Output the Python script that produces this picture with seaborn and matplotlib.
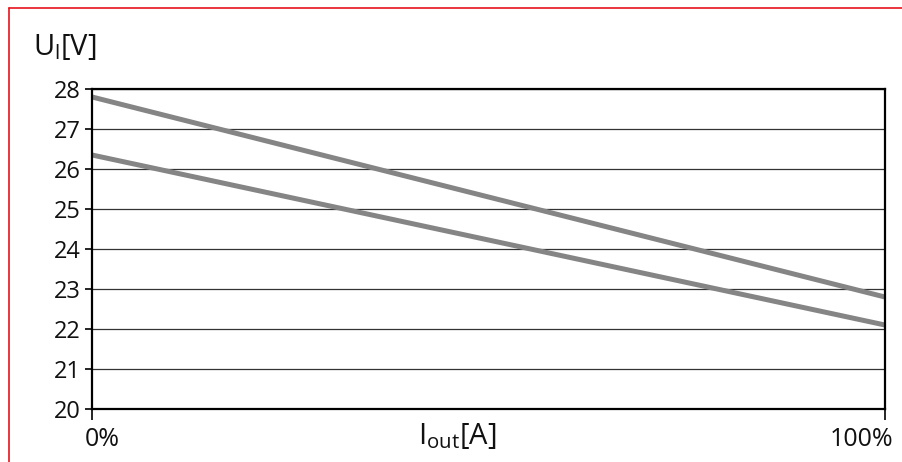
import matplotlib
matplotlib.use('Agg')
import matplotlib.pyplot as plt
from matplotlib.lines import Line2D
import matplotlib.transforms as mtransforms
import seaborn as sns
import pandas as pd

sns.set_style('white')
plt.rcParams['font.family'] = ['Open Sans', 'DejaVu Sans']
plt.rcParams['mathtext.fontset'] = 'custom'
plt.rcParams['mathtext.rm'] = 'Open Sans'

# load in percent, voltage
load_pct = [0, 100]
upper_v = [27.8, 22.8]
lower_v = [26.35, 22.1]
y_ticks = [20, 21, 22, 23, 24, 25, 26, 27, 28]
x_ticks = [0, 100]
x_labels = ['0%', '100%']

df = pd.DataFrame({
    'load': load_pct * 2,
    'volt': upper_v + lower_v,
    'curve': ['upper'] * 2 + ['lower'] * 2,
})

fig = plt.figure(figsize=(9.03, 4.62), dpi=100)
ax = fig.add_axes([0.1019, 0.1147, 0.8781, 0.6927])

sns.lineplot(data=df, x='load', y='volt', hue='curve', ax=ax,
             palette={'upper': '#858585', 'lower': '#858585'},
             linewidth=3.6, legend=False)

ax.set_xlim(0, 100)
ax.set_ylim(20, 28)
ax.set_yticks(y_ticks)
ax.set_xticks(x_ticks)
ax.yaxis.grid(True, color='#333333', linewidth=0.9)
ax.xaxis.grid(False)
ax.set_axisbelow(True)
for s in ax.spines.values():
    s.set_color('black')
    s.set_linewidth(1.6)
ax.tick_params(axis='y', left=True, length=5, width=1.2, color='black',
               labelsize=17, pad=3, labelcolor='#111111')
ax.tick_params(axis='x', bottom=True, length=8, width=1.2, color='black',
               pad=5, labelcolor='#111111')
ax.set_xticklabels(x_labels, fontsize=18)

# nudge the end labels like in the original
lbls = ax.get_xticklabels()
lbls[0].set_ha('left')
lbls[0].set_transform(lbls[0].get_transform() +
                      mtransforms.ScaledTranslation(-7 / 100, 0, fig.dpi_scale_trans))
lbls[1].set_ha('right')
lbls[1].set_transform(lbls[1].get_transform() +
                      mtransforms.ScaledTranslation(8 / 100, 0, fig.dpi_scale_trans))

ax.set_xlabel('')
ax.set_ylabel('')
fig.text(33 / 903, 1 - 47 / 462, r'$\mathregular{U_l}$[V]', fontsize=21,
         ha='left', va='center', color='#111111')
fig.text(457 / 903, 1 - 436 / 462, r'$\mathregular{I_{out}}$[A]', fontsize=21,
         ha='center', va='center', color='#111111')

# red frame on top and left
fig.add_artist(Line2D([9 / 903, 1], [1 - 8 / 462, 1 - 8 / 462],
                      transform=fig.transFigure, color='#e8141c', linewidth=1.2))
fig.add_artist(Line2D([9 / 903, 9 / 903], [0, 1 - 8 / 462],
                      transform=fig.transFigure, color='#e8141c', linewidth=1.2))

fig.savefig('out.png', dpi=100)
